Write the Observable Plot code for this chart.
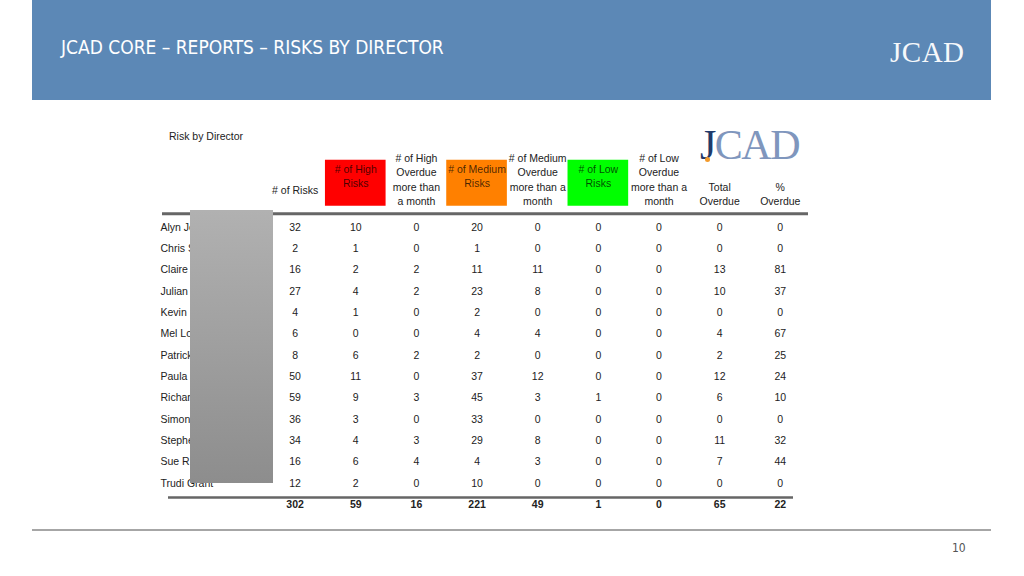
<!DOCTYPE html>
<html>
<head>
<meta charset="utf-8">
<script src="https://cdn.jsdelivr.net/npm/d3@7"></script>
<script src="https://cdn.jsdelivr.net/npm/@observablehq/plot@0.6"></script>
<style>
  html, body { margin: 0; padding: 0; background: #fff; }
  #slide { position: relative; width: 1024px; height: 576px; overflow: hidden; background: #fff; font-family: "Liberation Sans", Arial, sans-serif; }
  #banner { position: absolute; left: 32px; top: 0; width: 959px; height: 100px; background: #5c88b6; }
  #title { position: absolute; left: 61px; top: 36px; color: #fff; font-family: "Liberation Sans Narrow", "DejaVu Sans Condensed", sans-serif; font-size: 19px; white-space: nowrap; }
  #logoW { position: absolute; left: 890px; top: 36px; color: #fff; font-family: "Liberation Serif", serif; font-size: 29px; letter-spacing: 0.5px; opacity: 0.95; }
  #footline { position: absolute; left: 32px; top: 529px; width: 959px; height: 2px; background: #a6a6a6; }
  #pagenum { position: absolute; left: 952px; top: 541px; color: #555; font-family: "Liberation Sans Narrow", "DejaVu Sans Condensed", sans-serif; font-size: 12px; }
  #tabletitle { position: absolute; left: 169px; top: 130px; color: #222; font-size: 10.5px; }
  #logoT { position: absolute; left: 700px; top: 124px; font-family: "Liberation Serif", serif; font-size: 42px; letter-spacing: -1.5px; line-height: 1; }
  #logoT .j { color: #1f3a6b; }
  #logoT .cad { color: #7f96bd; }
  #logoT .dot { position: absolute; left: 5px; top: 33px; width: 5px; height: 5px; border-radius: 50%; background: #f39a2b; }
  #chart { position: absolute; left: 150px; top: 120px; }
  #redact { position: absolute; left: 190px; top: 210px; width: 83px; height: 273px; background: linear-gradient(#b1b1b1, #8d8d8d); }
</style>
</head>
<body>
<div id="slide">
  <div id="banner"></div>
  <div id="title">JCAD CORE – REPORTS – RISKS BY DIRECTOR</div>
  <div id="logoW">JCAD</div>
  <div id="tabletitle">Risk by Director</div>
  <div id="logoT"><span class="j">J</span><span class="cad">CAD</span><span class="dot"></span></div>
  <div id="chart"></div>
  <div id="redact"></div>
  <div id="footline"></div>
  <div id="pagenum">10</div>
</div>
<script>
// ---- data ----
const names = ["Alyn Jo", "Chris S", "Claire", "Julian", "Kevin I", "Mel Lo", "Patrick", "Paula", "Richard", "Simon", "Stephen", "Sue R", "Trudi Grant"];
const columns = ["risks", "high", "highOver", "med", "medOver", "low", "lowOver", "totalOver", "pct"];
const headerLabels = [
  "# of Risks",
  "# of High\nRisks",
  "# of High\nOverdue\nmore than\na month",
  "# of Medium\nRisks",
  "# of Medium\nOverdue\nmore than a\nmonth",
  "# of Low\nRisks",
  "# of Low\nOverdue\nmore than a\nmonth",
  "Total\nOverdue",
  "%\nOverdue"
];
const risks     = [32, 2, 16, 27, 4, 6, 8, 50, 59, 36, 34, 16, 12];
const high      = [10, 1, 2, 4, 1, 0, 6, 11, 9, 3, 4, 6, 2];
const highOver  = [0, 0, 2, 2, 0, 0, 2, 0, 3, 0, 3, 4, 0];
const med       = [20, 1, 11, 23, 2, 4, 2, 37, 45, 33, 29, 4, 10];
const medOver   = [0, 0, 11, 8, 0, 4, 0, 12, 3, 0, 8, 3, 0];
const low       = [0, 0, 0, 0, 0, 0, 0, 0, 1, 0, 0, 0, 0];
const lowOver   = [0, 0, 0, 0, 0, 0, 0, 0, 0, 0, 0, 0, 0];
const totalOver = [0, 0, 13, 10, 0, 4, 2, 12, 6, 0, 11, 7, 0];
const pctOver   = [0, 0, 81, 37, 0, 67, 25, 24, 10, 0, 32, 44, 0];
const totals    = [302, 59, 16, 221, 49, 1, 0, 65, 22];

// ---- build tables ----
const series = [risks, high, highOver, med, medOver, low, lowOver, totalOver, pctOver];
const cells = [];
columns.forEach((c, j) => names.forEach((n, i) => cells.push({col: c, row: n, value: series[j][i]})));
const totalCells = columns.map((c, j) => ({col: c, row: "total", value: totals[j]}));
const headers = columns.map((c, j) => ({col: c, row: "hdr", label: headerLabels[j]}));

const boxColor = {high: "#ff0000", med: "#ff8000", low: "#00ff00"};
const boxed = headers.filter(h => h.col in boxColor).map(h => ({...h, color: boxColor[h.col]}));
const fourLine = headers.filter(h => ["highOver", "medOver", "lowOver"].includes(h.col));
const twoLine = headers.filter(h => ["totalOver", "pct"].includes(h.col));
const single = headers.filter(h => h.col === "risks");

const chart = Plot.plot({
  width: 670,
  height: 400,
  marginLeft: 12,
  marginRight: 12,
  marginTop: 86,
  marginBottom: 16,
  x: {type: "band", domain: columns, range: [114.3, 660.1], padding: 0, round: false, axis: null},
  y: {type: "point", domain: ["hdr", ...names, "total"], range: [85.7, 384], padding: 0, round: false, axis: null},
  color: {type: "identity"},
  style: {fontFamily: "'Liberation Sans', Arial, sans-serif", fontSize: "10.5px", background: "transparent", color: "#222"},
  marks: [
    Plot.tickY(boxed, {x: "col", y: "row", stroke: "color", strokeWidth: 46, dy: -23.5}),
    Plot.text(boxed, {x: "col", y: "row", text: "label", dy: -31, lineHeight: 1.33, fill: "#000", fillOpacity: 0.72}),
    Plot.text(fourLine, {x: "col", y: "row", text: "label", dy: -27.5, lineHeight: 1.38, fill: "#222"}),
    Plot.text(twoLine, {x: "col", y: "row", text: "label", dy: -12.5, lineHeight: 1.33, fill: "#222"}),
    Plot.text(single, {x: "col", y: "row", text: "label", dy: -16, fill: "#222"}),
    Plot.ruleY(["hdr"], {dy: 7.5, stroke: "#666", strokeWidth: 3}),
    Plot.text(names, {y: d => d, text: d => d, frameAnchor: "left", textAnchor: "start", dx: -2, fill: "#222"}),
    Plot.text(cells, {x: "col", y: "row", text: "value", fill: "#222"}),
    Plot.ruleY(["total"], {dy: -7, stroke: "#666", strokeWidth: 2.5, insetLeft: 6, insetRight: 15}),
    Plot.text(totalCells, {x: "col", y: "row", text: "value", fontWeight: "bold", fill: "#222"})
  ]
});
document.getElementById("chart").appendChild(chart);
</script>
</body>
</html>
